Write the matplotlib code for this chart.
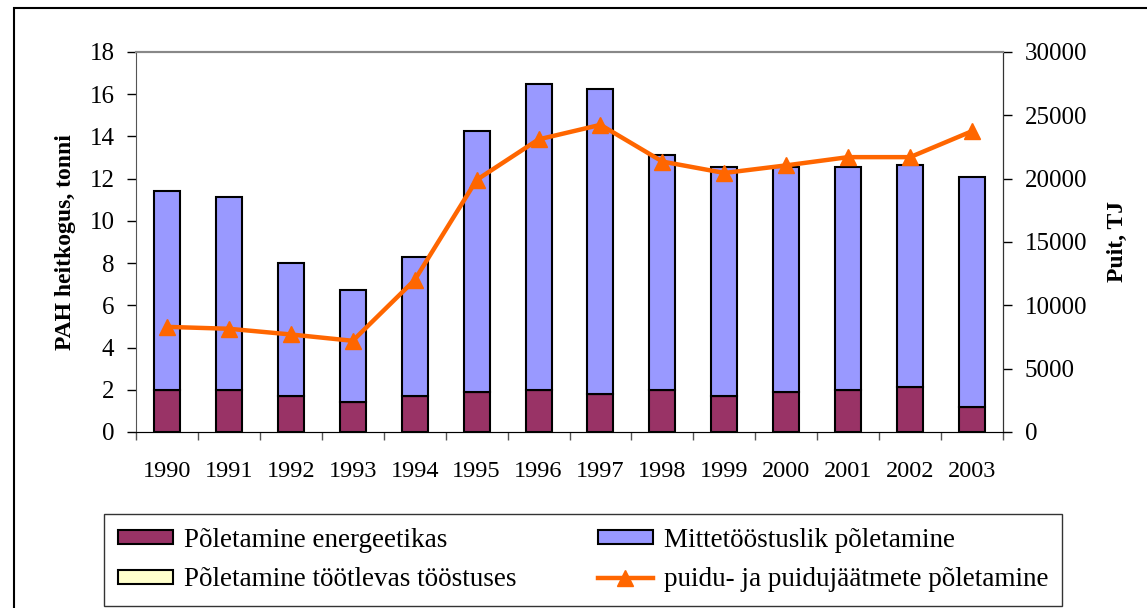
import matplotlib
matplotlib.use("Agg")
import matplotlib.pyplot as plt
import matplotlib.patches as mpatches
import numpy as np

years = ["1990", "1991", "1992", "1993", "1994", "1995", "1996",
         "1997", "1998", "1999", "2000", "2001", "2002", "2003"]
energeetikas = [2.0, 2.0, 1.7, 1.4, 1.7, 1.9, 2.0, 1.8, 2.0, 1.7, 1.9, 2.0, 2.15, 1.2]
tootlevas = [0, 0, 0, 0, 0, 0, 0, 0, 0, 0, 0, 0, 0, 0]
totals = [11.42, 11.13, 8.0, 6.75, 8.29, 14.26, 16.48, 16.25, 13.12, 12.55, 12.55, 12.55, 12.65, 12.08]
mittetoostuslik = [t - e - y for t, e, y in zip(totals, energeetikas, tootlevas)]
puit = [8300, 8150, 7700, 7200, 12000, 19900, 23100, 24250, 21350, 20450, 21050, 21700, 21700, 23750]

plt.rcParams['font.family'] = ['Liberation Serif', 'DejaVu Serif']

W, H = 1147, 608
fig = plt.figure(figsize=(W / 100, H / 100), dpi=100)

# outer border
fig.patches.append(mpatches.Rectangle((14 / W, -0.05), 1.2, 1 - 8 / H + 0.05,
                                      transform=fig.transFigure, fill=False,
                                      edgecolor='black', linewidth=1.5))

ax = fig.add_axes([136 / W, 1 - 432 / H, (1003 - 136) / W, (432 - 52) / H])
x = np.arange(len(years))
bw = 0.42
ec = 'black'
lw = 1.5
b1 = ax.bar(x, energeetikas, bw, color='#993366', edgecolor=ec, linewidth=lw,
            label='Põletamine energeetikas', zorder=2)
b2 = ax.bar(x, tootlevas, bw, bottom=energeetikas, color='#FFFFCC', edgecolor=ec,
            linewidth=lw, label='Põletamine töötlevas tööstuses', zorder=2)
bottom2 = [e + y for e, y in zip(energeetikas, tootlevas)]
b3 = ax.bar(x, mittetoostuslik, bw, bottom=bottom2, color='#9999FF', edgecolor=ec,
            linewidth=lw, label='Mittetööstuslik põletamine', zorder=2)

ax.set_xlim(-0.5, len(years) - 0.5)
ax.set_ylim(0, 18)
ax.set_yticks(np.arange(0, 19, 2))
ax.set_xticks(np.arange(-0.5, len(years), 1.0))
ax.set_xticklabels([])
ax.set_xticks(x, minor=True)
ax.set_xticklabels(years, minor=True)
ax.tick_params(axis='x', which='minor', length=0, pad=21, labelsize=17.5)
ax.tick_params(axis='x', which='major', direction='out', length=6, width=1, color='#555555')
ax.tick_params(axis='y', direction='out', length=6.5, width=1, labelsize=18, pad=9)
ax.set_ylabel('PAH heitkogus, tonni', fontsize=17, fontweight='bold', labelpad=10)
ax.spines['top'].set_color('#888888')
ax.spines['top'].set_linewidth(1.5)
ax.spines['left'].set_color('#555555')
ax.spines['bottom'].set_color('#555555')

ax2 = ax.twinx()
ln, = ax2.plot(x, puit, color='#FF6600', linewidth=3.2, marker='^', markersize=11,
               label='puidu- ja puidujäätmete põletamine', zorder=3)
ax2.set_ylim(0, 30000)
ax2.set_yticks(np.arange(0, 30001, 5000))
ax2.tick_params(axis='y', direction='out', length=6.5, width=1, labelsize=18, pad=9)
ax2.set_ylabel('Puit, TJ', fontsize=17, fontweight='bold', labelpad=14)
ax2.spines['top'].set_color('#888888')
ax2.spines['top'].set_linewidth(1.5)
ax2.spines['right'].set_color('#333333')
ax2.spines['left'].set_visible(False)

handles = [b1, b2, b3, ln]
labels = [h.get_label() for h in handles]
leg = fig.legend(handles, labels, ncol=2,
                 bbox_to_anchor=(104 / W, 1 - 606 / H),
                 loc='lower left', fontsize=19.5, frameon=True, fancybox=False,
                 edgecolor='black', handlelength=2.05, handleheight=0.45,
                 borderaxespad=0, labelspacing=0.55, handletextpad=0.4,
                 borderpad=0.5, columnspacing=3.0)
leg.get_frame().set_linewidth(1.0)

fig.savefig('out.png', dpi=100)
